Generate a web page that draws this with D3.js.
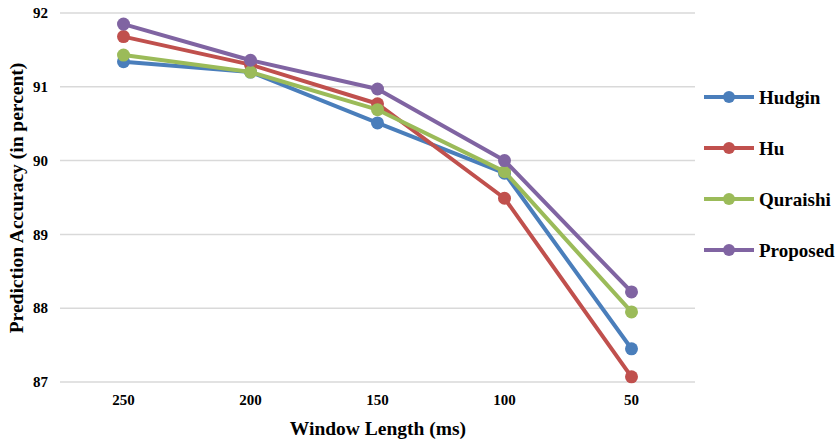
<!DOCTYPE html>
<html>
<head>
<meta charset="utf-8">
<script src="https://cdn.jsdelivr.net/npm/d3@7"></script>
<style>
  body { margin: 0; background: #fff; }
  text { font-family: "Liberation Serif", "Times New Roman", serif; font-weight: bold; fill: #000; }
</style>
</head>
<body>
<svg id="chart" width="837" height="440"></svg>
<script>
// data
const windows = ["250", "200", "150", "100", "50"];
const hudgin   = [91.34, 91.20, 90.51, 89.83, 87.45];
const hu       = [91.68, 91.30, 90.77, 89.49, 87.07];
const quraishi = [91.43, 91.20, 90.69, 89.85, 87.95];
const proposed = [91.85, 91.36, 90.97, 90.00, 88.22];
const yTicks = [87, 88, 89, 90, 91, 92];

const series = [
    { name: "Hudgin",   values: hudgin,   color: "#4a7ebb" },
    { name: "Hu",       values: hu,       color: "#c0504d" },
    { name: "Quraishi", values: quraishi, color: "#9bbb59" },
    { name: "Proposed", values: proposed, color: "#8064a2" }
];

let svg = d3.select("#chart");

const x = d3.scaleBand().domain(windows).range([60, 695]);
const y = d3.scaleLinear().domain([87, 92]).range([382, 13]);

// gridlines
svg.append("g")
    .selectAll("line")
    .data(yTicks)
    .enter()
    .append("line")
    .attr("x1", 60).attr("x2", 695)
    .attr("y1", d => y(d)).attr("y2", d => y(d))
    .attr("stroke", "#d9d9d9")
    .attr("stroke-width", 1.5);

// y tick labels
svg.append("g")
    .selectAll("text")
    .data(yTicks)
    .enter()
    .append("text")
    .attr("x", 48)
    .attr("y", d => y(d))
    .attr("dy", "0.35em")
    .attr("text-anchor", "end")
    .attr("font-size", 15)
    .text(d => d);

// x tick labels
svg.append("g")
    .selectAll("text")
    .data(windows)
    .enter()
    .append("text")
    .attr("x", d => x(d) + x.bandwidth() / 2)
    .attr("y", 405)
    .attr("text-anchor", "middle")
    .attr("font-size", 15)
    .text(d => d);

// axis titles
svg.append("text")
    .attr("x", 378).attr("y", 435)
    .attr("text-anchor", "middle")
    .attr("font-size", 19.5)
    .text("Window Length (ms)");

svg.append("text")
    .attr("transform", "translate(23,198) rotate(-90)")
    .attr("text-anchor", "middle")
    .attr("font-size", 19.5)
    .text("Prediction Accuracy (in percent)");

// lines + markers
const line = d3.line()
    .x((d, i) => x(windows[i]) + x.bandwidth() / 2)
    .y(d => y(d));

series.forEach(s => {
    const grp = svg.append("g");
    grp.append("path")
        .attr("d", line(s.values))
        .attr("fill", "none")
        .attr("stroke", s.color)
        .attr("stroke-width", 4)
        .attr("stroke-linejoin", "round");
    grp.selectAll("circle")
        .data(s.values)
        .enter()
        .append("circle")
        .attr("cx", (d, i) => x(windows[i]) + x.bandwidth() / 2)
        .attr("cy", d => y(d))
        .attr("r", 6.5)
        .attr("fill", s.color);
});

// legend
const legend = svg.append("g")
    .selectAll("g")
    .data(series)
    .enter()
    .append("g")
    .attr("transform", (d, i) => `translate(704,${97 + i * 51})`);

legend.append("line")
    .attr("x1", 0).attr("x2", 50)
    .attr("stroke", d => d.color)
    .attr("stroke-width", 4);
legend.append("circle")
    .attr("cx", 25).attr("r", 6)
    .attr("fill", d => d.color);
legend.append("text")
    .attr("x", 55)
    .attr("dy", "0.35em")
    .attr("font-size", 19)
    .text(d => d.name);
</script>
</body>
</html>
